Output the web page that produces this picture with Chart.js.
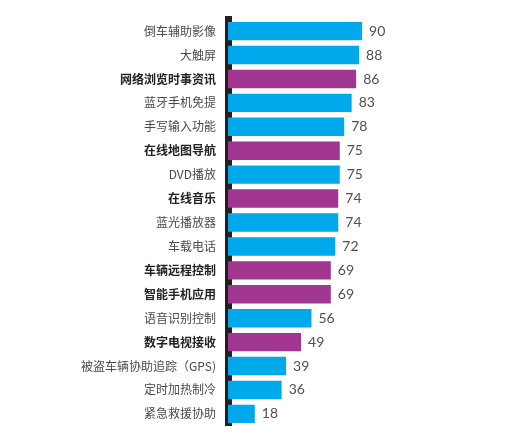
<!DOCTYPE html>
<html>
<head>
<meta charset="utf-8">
<script src="https://cdn.jsdelivr.net/npm/chart.js@4"></script>
<style>
  html, body { margin: 0; padding: 0; background: #fff; }
  #wrap { width: 519px; height: 445px; position: relative; }
</style>
</head>
<body>
<div id="wrap"><canvas id="chart"></canvas></div>
<script>
/* ------------------------------------------------------------------ */
/*  Data                                                               */
/* ------------------------------------------------------------------ */

const categories = [
    '倒车辅助影像', '大触屏', '网络浏览时事资讯', '蓝牙手机免提', '手写输入功能',
    '在线地图导航', 'DVD播放', '在线音乐', '蓝光播放器', '车载电话',
    '车辆远程控制', '智能手机应用', '语音识别控制', '数字电视接收',
    '被盗车辆协助追踪（GPS)', '定时加热制冷', '紧急救援协助'
];
const values = [90, 88, 86, 83, 78, 75, 75, 74, 74, 72, 69, 69, 56, 49, 39, 36, 18];
// true = online / connected feature (purple, bold label)
const highlighted = [false, false, true, false, false, true, false, true, false, false,
    true, true, false, true, false, false, false];

const BLUE = '#00a9ec';
const PURPLE = '#a0368f';

/** Draws the value text just past the end of each bar. */
const valueLabels = {
    id: 'valueLabels',
    afterDatasetsDraw(chart) {
        const ctx = chart.ctx;
        const meta = chart.getDatasetMeta(0);
        ctx.save();
        ctx.font = '14px Lato, "Open Sans", sans-serif';
        ctx.fillStyle = '#505050';
        ctx.textAlign = 'left';
        ctx.textBaseline = 'middle';
        meta.data.forEach((bar, i) => {
            ctx.fillText(String(values[i]), bar.x + 7, bar.y);
        });
        ctx.restore();
    }
};

new Chart(document.getElementById('chart'), {
    type: 'bar',
    data: {
        labels: categories,
        datasets: [{
            data: values,
            backgroundColor: highlighted.map(h => h ? PURPLE : BLUE),
            barPercentage: 0.77,
            categoryPercentage: 1
        }]
    },
    options: {
        indexAxis: 'y',
        animation: false,
        responsive: true,
        maintainAspectRatio: false,
        layout: { padding: { top: 9, bottom: 12, left: 0, right: 142 } },
        scales: {
            x: {
                min: 0,
                max: 100,
                display: false
            },
            y: {
                z: 1,
                afterFit(scale) { scale.width = 228; },
                grid: { display: false, drawTicks: false },
                border: { display: true, color: '#231f20', width: 7 },
                ticks: {
                    padding: 12,
                    color: (c) => highlighted[c.index] ? '#222' : '#4a4a4a',
                    font: (c) => ({
                        family: '"Noto Sans CJK SC", "Noto Sans", sans-serif',
                        size: 12,
                        weight: highlighted[c.index] ? 'bold' : 'normal'
                    })
                }
            }
        },
        plugins: {
            legend: { display: false },
            tooltip: { enabled: false }
        }
    },
    plugins: [valueLabels]
});
</script>
</body>
</html>
